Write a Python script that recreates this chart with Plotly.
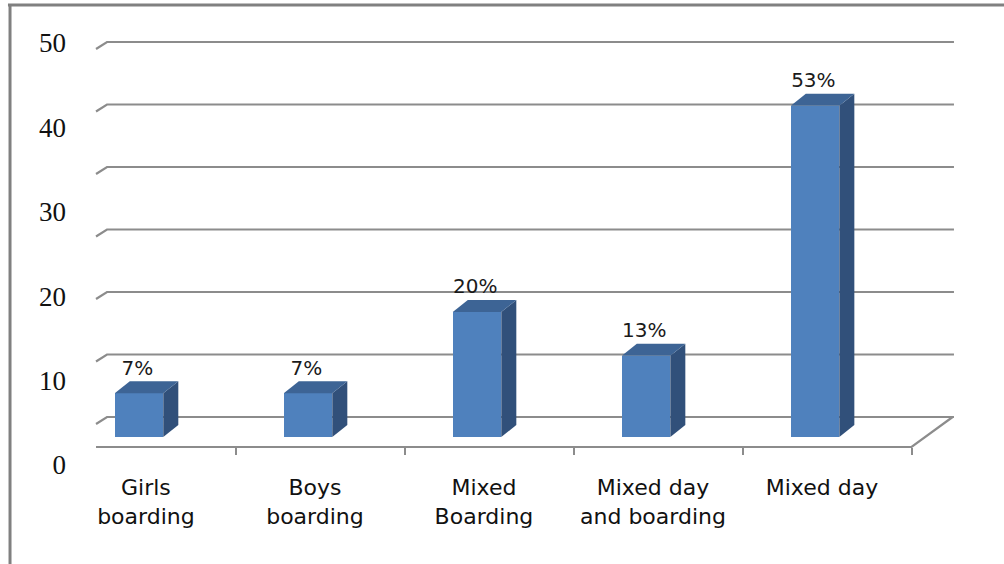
import plotly.graph_objects as go

# ---- data ----
categories = ["Girls<br>boarding", "Boys<br>boarding", "Mixed<br>Boarding",
              "Mixed day<br>and boarding", "Mixed day"]
values = [7, 7, 20, 13, 53]
grid_values = [0, 10, 20, 30, 40, 50, 60]
y_tick_labels = ["0", "10", "20", "30", "40", "50"]
y_tick_values = [0, 10, 20, 30, 40, 50]

# ---- styling / geometry constants (axis units) ----
FRONT = "#4F81BD"
SIDE = "#31507A"
TOP = "#3D6495"
GRID = "#8c8c8c"
BAR_SHIFT = -0.071      # bar centre offset from category centre
BAR_W = 0.287           # bar front width
DX = 0.089              # depth offset in x
DY = 1.92               # depth offset in y
WALL_DY = 3.2           # back wall offset above bar base
DIAG_DY = 2.08
WALL_X0 = -0.3254
WALL_X1 = -0.2604
WALL_X2 = 4.751
FLOOR_Y = -1.6
FLOOR_X0 = -0.3254
FLOOR_X1 = 4.5
FLOOR_X2 = 4.743
LABEL_DY = 3.8

n = len(categories)
xs = list(range(n))
centers = [i + BAR_SHIFT for i in xs]

fig = go.Figure()

# gridlines on back wall (as shapes below traces)
shapes = []
for g in grid_values:
    yb = g + WALL_DY
    shapes.append(dict(type="path", xref="x", yref="y", layer="below",
                       path=f"M {WALL_X0},{g + DIAG_DY} L {WALL_X1},{yb} L {WALL_X2},{yb}",
                       line=dict(color=GRID, width=2.2)))
# floor front line and right diagonal
shapes.append(dict(type="path", xref="x", yref="y", layer="below",
                   path=f"M {FLOOR_X0},{FLOOR_Y} L {FLOOR_X1},{FLOOR_Y} L {FLOOR_X2},{WALL_DY}",
                   line=dict(color=GRID, width=2.2)))
# outer frame (top and left)
shapes.append(dict(type="line", xref="paper", yref="paper", x0=-0.0687, x1=1.0,
                   y0=0.9911, y1=0.9911, line=dict(color="#808080", width=3)))
shapes.append(dict(type="line", xref="paper", yref="paper", x0=-0.0665, x1=-0.0665,
                   y0=0.993, y1=0.0, line=dict(color="#808080", width=3)))

# front faces
fig.add_trace(go.Bar(x=centers, y=values, width=BAR_W, marker=dict(color=FRONT, line=dict(width=0)),
                     hoverinfo="skip", showlegend=False))

# side and top faces
for c, v in zip(centers, values):
    xr = c + BAR_W / 2
    xl = c - BAR_W / 2
    fig.add_trace(go.Scatter(x=[xr, xr + DX, xr + DX, xr, xr], y=[0, DY, v + DY, v, 0],
                             fill="toself", fillcolor=SIDE, mode="lines", line=dict(width=0, color=SIDE),
                             hoverinfo="skip", showlegend=False))
    fig.add_trace(go.Scatter(x=[xl, xr, xr + DX, xl + DX, xl], y=[v, v, v + DY, v + DY, v],
                             fill="toself", fillcolor=TOP, mode="lines", line=dict(width=0, color=TOP),
                             hoverinfo="skip", showlegend=False))

# percentage labels
fig.add_trace(go.Scatter(x=[c - 0.01 for c in centers], y=[v + LABEL_DY for v in values],
                         text=[f"{v}%" for v in values], mode="text", textposition="middle center",
                         textfont=dict(family="DejaVu Sans", size=20, color="#1a1a1a"),
                         hoverinfo="skip", showlegend=False))

# invisible trace for the labelled value axis
fig.add_trace(go.Scatter(x=[0], y=[0], yaxis="y2", mode="markers", marker=dict(opacity=0),
                         hoverinfo="skip", showlegend=False))

fig.update_layout(
    width=1004, height=564,
    margin=dict(l=72, r=0, t=0, b=0),
    paper_bgcolor="white", plot_bgcolor="white",
    shapes=shapes,
    bargap=0,
    hovermode=False,
    xaxis=dict(range=[-0.4675, 5.047], tickvals=[i - 0.03 for i in xs], ticktext=categories,
               ticks="", showgrid=False, zeroline=False, showline=False,
               anchor="free", position=(564 - 447) / 564,
               tickfont=dict(family="DejaVu Sans", size=22, color="#111"),
               ticklabelstandoff=25,
               minor=dict(tickvals=[i + 0.5 for i in xs], ticks="outside", ticklen=7,
                          tickwidth=2, tickcolor=GRID, showgrid=False)),
    yaxis=dict(range=[-20.32, 69.92], showgrid=False, zeroline=False, showline=False,
               showticklabels=False, ticks=""),
    yaxis2=dict(range=[-11.73, 55.09], overlaying="y", side="left", anchor="x",
                tickvals=y_tick_values, ticktext=y_tick_labels, ticks="",
                showgrid=False, zeroline=False, showline=False,
                tickfont=dict(family="Liberation Serif", size=27, color="#111"),
                ticklabelstandoff=5),
)

fig.write_html("out.html", config={"displayModeBar": False},
               post_script="document.body.style.margin='0';")
